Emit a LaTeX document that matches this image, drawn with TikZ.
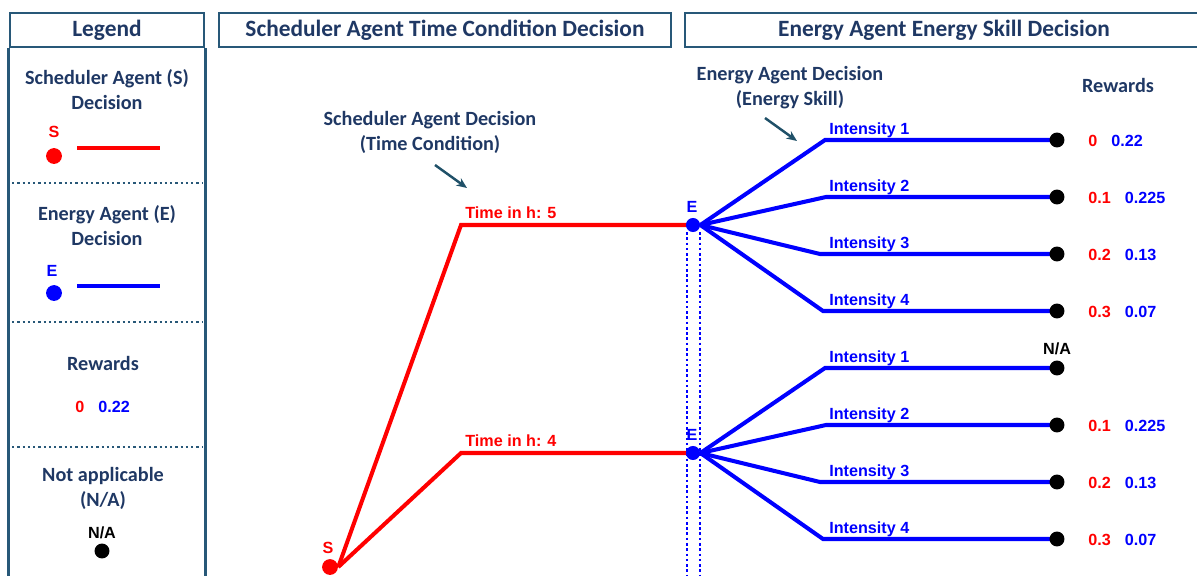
\documentclass[tikz,border=0pt]{standalone}
\usepackage{fontspec}
\setmainfont{Carlito}
\newfontfamily\arialfont{Liberation Sans}
\usepackage{xcolor}
\usetikzlibrary{positioning,calc,arrows.meta,backgrounds}
\definecolor{navy}{RGB}{31,56,100}
\definecolor{frame}{RGB}{40,88,120}
\definecolor{pointer}{RGB}{31,80,104}

\begin{document}
\begin{tikzpicture}[
    x=0.02cm, y=-0.02cm,
    every node/.style={inner sep=0pt},
    hdr/.style={draw=frame, line width=1.5pt, text=navy, minimum height=0.68cm,
                font=\fontsize{13.3}{15}\selectfont\bfseries},
    lgtxt/.style={text=navy, align=center, font=\fontsize{11.5}{14.2}\selectfont\bfseries},
    tlab/.style={font=\arialfont\fontsize{9.2}{11}\selectfont\bfseries},
    frameline/.style={frame, line width=1.5pt},
    sline/.style={red, line width=2.3pt},
    eline/.style={blue, line width=2.3pt},
    sdot/.style={circle, fill=red, minimum size=9pt},
    edot/.style={circle, fill=blue, minimum size=8pt},
    leaf/.style={circle, fill=black, minimum size=8.5pt},
    sepline/.style={frame, line width=1.4pt, dash pattern=on 1.3pt off 1.7pt},
    vguide/.style={blue, line width=0.6pt, dash pattern=on 1.5pt off 1.5pt},
    hint/.style={-{Stealth[length=6pt,width=5pt]}, pointer, line width=1.4pt},
]

\useasboundingbox (0,0) rectangle (1197,575);

% Legend column
\node[hdr, minimum width=3.88cm] (lg) at (107,30) {Legend};
\draw[frameline] (lg.south west) -- ++(0,540);
\draw[frameline] (lg.south east) -- ++(0,540);

\node[lgtxt] (lgs) at (107,90) {Scheduler Agent (S)\\Decision};
\node[sdot] (lgsdot) at (54,156) {};
\node[tlab, red] (lgslab) at (54,132) {S};
\coordinate (lgsa) at (77,148);
\coordinate (lgsb) at (160,148);
\draw[sline] (lgsa) -- (lgsb);

\draw[sepline] (12,183) -- (202,183);

\node[lgtxt] (lge) at (107,226) {Energy Agent (E)\\Decision};
\node[edot, minimum size=9pt] (lgedot) at (54,293) {};
\node[tlab, blue] (lgelab) at (52,271) {E};
\coordinate (lgea) at (77,286);
\coordinate (lgeb) at (160,286);
\draw[eline] (lgea) -- (lgeb);

\draw[sepline] (12,322) -- (202,322);

\node[lgtxt] (lgr) at (103,363) {Rewards};
\node[tlab, anchor=base west] (lgrv) at (75,412) {{\color{red}0}\hspace{8pt}{\color{blue}0.22}};

\draw[sepline] (12,447) -- (202,447);

\node[lgtxt] (lgn) at (103,488) {Not applicable\\(N/A)};
\node[leaf] (lgndot) at (102,551) {};
\node[tlab] (lgnlab) at (102,533) {N/A};

% Scheduler agent column
\node[hdr, minimum width=9.04cm] (sh) at (445,30) {Scheduler Agent Time Condition Decision};
\node[lgtxt] (sann) at (430,132) {Scheduler Agent Decision\\(Time Condition)};
\coordinate (sa0) at (435,165);
\coordinate (sa1) at (467,188);
\draw[hint] (sa0) -- (sa1);

\node[sdot] (s) at (330,567) {};
\node[tlab, red] (slab) at (328,548) {S};
\coordinate (t5) at (461,225);
\coordinate (t4) at (461,453);
\node[tlab, red, anchor=base west] (h5) at (465,218) {Time in h: 5};
\node[tlab, red, anchor=base west] (h4) at (465,446) {Time in h: 4};

% Energy agent column
\node[hdr, minimum width=10.36cm] (eh) at (944,30) {Energy Agent Energy Skill Decision};
\node[lgtxt] (eann) at (790,88) {Energy Agent Decision\\(Energy Skill)};
\coordinate (ea0) at (765,118);
\coordinate (ea1) at (797,141);
\draw[hint] (ea0) -- (ea1);
\node[lgtxt] (rw) at (1118,85) {Rewards};

\node[edot] (ea) at (693,225) {};
\node[edot] (eb) at (693,453) {};
\node[tlab, blue] (ealab) at (692,207) {E};
\node[tlab, blue] (eblab) at (692,435) {E};

\foreach \g/\ey in {a/225, b/453} {
  \foreach \i/\dy/\ex in {1/-85/825, 2/-28/826, 3/29/820, 4/86/823} {
    \coordinate (k\g\i) at (\ex,\ey+\dy);
    \node[leaf] (l\g\i) at (1057,\ey+\dy) {};
    \node[tlab, blue, anchor=base west] (n\g\i) at (829,\ey+\dy-6) {Intensity \i};
  }
}

% rewards per leaf
\foreach \row/\rr/\rb in {a1/0/0.22, a2/0.1/0.225, a3/0.2/0.13, a4/0.3/0.07,
                          b2/0.1/0.225, b3/0.2/0.13, b4/0.3/0.07} {
  \node[tlab, anchor=base west] (rv\row) at ($(l\row)+(31,6)$)
      {{\color{red}\rr}\hspace{8pt}{\color{blue}\rb}};
}
\node[tlab] (nab1) at ($(lb1)+(0,-19)$) {N/A};

% branches under the dots
\begin{scope}[on background layer]
\draw[vguide] ($(ea)+(-6,7)$) -- ($(ea)+(-6,360)$);
\draw[vguide] ($(ea)+(7,7)$) -- ($(ea)+(7,360)$);
\draw[sline] (s.east) -- (t5) -- (ea.center);
\draw[sline] (s.east) -- (t4) -- (eb.center);
\foreach \g in {a,b} {
  \foreach \i in {1,...,4} {
    \draw[eline] (e\g.east) -- (k\g\i) -- (l\g\i.center);
  }
}
\end{scope}

\end{tikzpicture}
\end{document}
